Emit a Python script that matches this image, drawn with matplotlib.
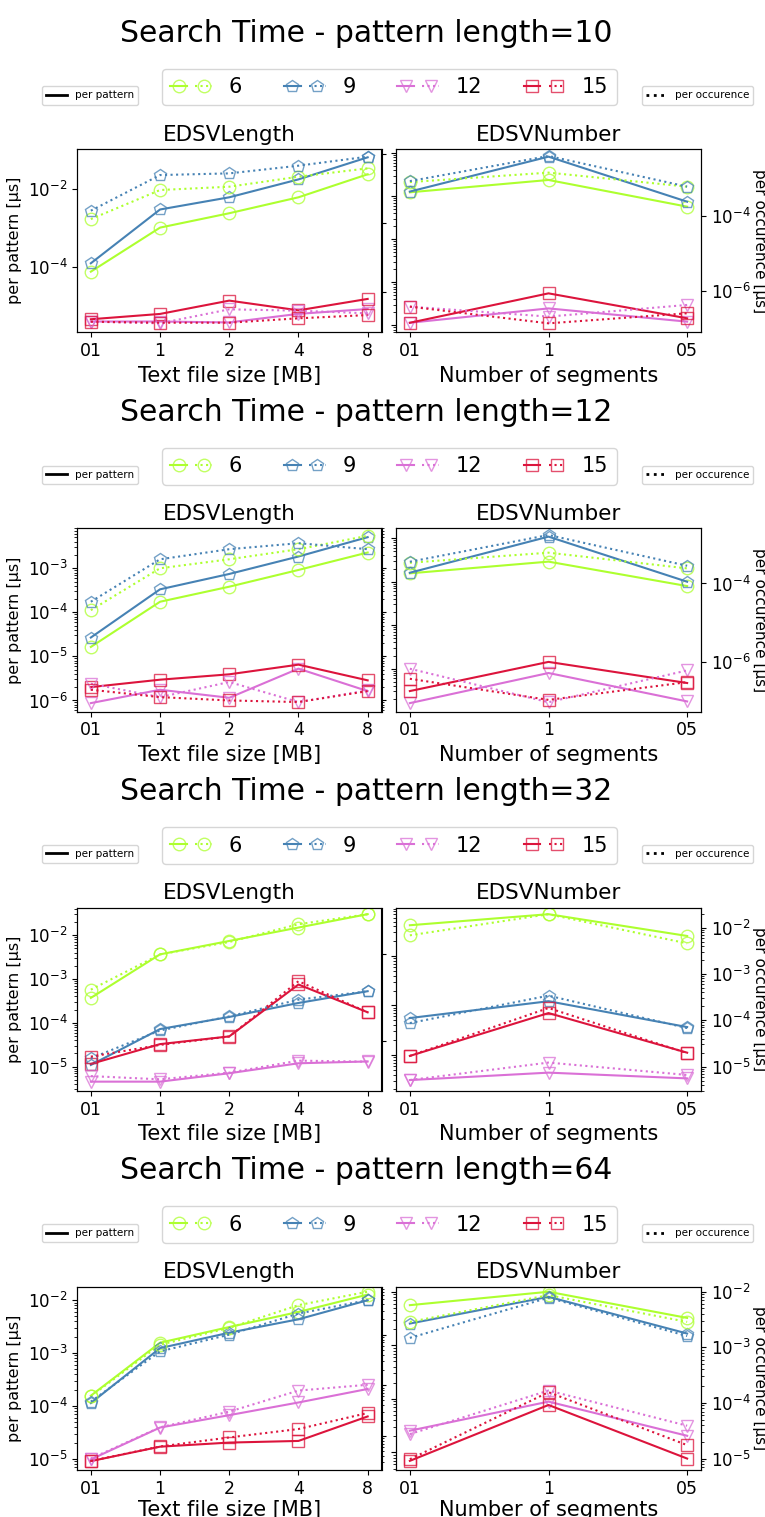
import numpy as np
import matplotlib.pyplot as plt
from matplotlib.lines import Line2D
from matplotlib.legend_handler import HandlerTuple
from matplotlib.ticker import NullFormatter, NullLocator
from matplotlib.colors import to_rgba

sizes = ['01', '1', '2', '4', '8']
segments = ['01', '1', '05']
pattern_lengths = [10, 12, 32, 64]
groups = ['6', '9', '12', '15']
colors = ['greenyellow', 'steelblue', 'orchid', 'crimson']
markers = ['o', 'p', 'v', 's']

# EDSVLength, per pattern [us] (series: 6, 9, 12, 15)
length_pat_10 = [[7.4e-5, 1.02e-3, 2.4e-3, 6.2e-3, 2.44e-2],
                 [1.22e-4, 3.0e-3, 6.2e-3, 1.8e-2, 6.7e-2],
                 [3.8e-6, 3.8e-6, 3.6e-6, 6.0e-6, 8.0e-6],
                 [4.35e-6, 5.97e-6, 1.32e-5, 7.4e-6, 1.46e-5]]
length_pat_12 = [[1.64e-5, 1.74e-4, 3.82e-4, 9.16e-4, 2.28e-3],
                 [2.68e-5, 3.33e-4, 7.43e-4, 1.85e-3, 5.08e-3],
                 [8.7e-7, 1.75e-6, 1.15e-6, 5.27e-6, 1.63e-6],
                 [2.01e-6, 2.96e-6, 3.92e-6, 6.5e-6, 2.86e-6]]
length_pat_32 = [[3.71e-4, 3.66e-3, 7.41e-3, 1.5e-2, 3.03e-2],
                 [1.09e-5, 7.2e-5, 1.36e-4, 2.84e-4, 5.27e-4],
                 [4.53e-6, 4.53e-6, 7.05e-6, 1.19e-5, 1.31e-5],
                 [1.15e-5, 3.26e-5, 4.89e-5, 7.5e-4, 1.74e-4]]
length_pat_64 = [[1.56e-4, 1.57e-3, 3.11e-3, 6.0e-3, 1.28e-2],
                 [1.13e-4, 1.24e-3, 2.43e-3, 4.36e-3, 1.0e-2],
                 [9.7e-6, 3.89e-5, 6.68e-5, 1.16e-4, 2.09e-4],
                 [9.0e-6, 1.69e-5, 2.02e-5, 2.17e-5, 6.31e-5]]

# EDSVLength, per occurence [us]
length_occ_10 = [[1.3e-4, 9.06e-4, 1.13e-3, 2.2e-3, 3.85e-3],
                 [2.28e-4, 2.46e-3, 2.75e-3, 4.59e-3, 8.4e-3],
                 [1.38e-7, 1.24e-7, 3.15e-7, 2.88e-7, 2.41e-7],
                 [1.38e-7, 1.29e-7, 1.29e-7, 1.73e-7, 2.15e-7]]
length_occ_12 = [[1.12e-4, 1.0e-3, 1.6e-3, 2.71e-3, 5.46e-3],
                 [1.74e-4, 1.6e-3, 2.71e-3, 3.71e-3, 2.71e-3],
                 [2.4e-6, 1.19e-6, 2.62e-6, 9.2e-7, 1.69e-6],
                 [1.75e-6, 1.19e-6, 1.0e-6, 9.2e-7, 1.63e-6]]
length_occ_32 = [[1.53e-3, 1.0e-2, 1.94e-2, 4.99e-2, 8.5e-2],
                 [3.95e-5, 1.74e-4, 3.68e-4, 8.98e-4, 1.4e-3],
                 [1.53e-5, 1.29e-5, 1.84e-5, 3.49e-5, 3.3e-5],
                 [4.32e-5, 8.07e-5, 1.26e-4, 2.4e-3, 4.56e-4]]
length_occ_64 = [[6.04e-4, 6.32e-3, 1.36e-2, 3.83e-2, 7.05e-2],
                 [4.73e-4, 4.67e-3, 1.0e-2, 2.61e-2, 4.81e-2],
                 [3.55e-5, 1.47e-4, 3.0e-4, 7.83e-4, 1.02e-3],
                 [3.18e-5, 6.14e-5, 9.27e-5, 1.36e-4, 2.82e-4]]

# EDSVNumber, per pattern [us]
number_pat_10 = [[1.24e-3, 2.4e-3, 5.75e-4],
                 [1.29e-3, 8.36e-3, 7.5e-4],
                 [1.15e-6, 2.48e-6, 1.22e-6],
                 [1.15e-6, 5.55e-6, 1.46e-6]]
number_pat_12 = [[1.56e-4, 2.9e-4, 7.94e-5],
                 [1.61e-4, 1.09e-3, 1.0e-4],
                 [1.61e-7, 7.94e-7, 1.76e-7],
                 [3.05e-7, 1.43e-6, 4.67e-7]]
number_pat_32 = [[4.2e-2, 7.03e-2, 2.55e-2],
                 [5.57e-4, 1.22e-3, 3.66e-4],
                 [3.1e-5, 4.38e-5, 3.35e-5],
                 [9.55e-5, 7.03e-4, 1.11e-4]]
number_pat_64 = [[5.62e-3, 1.0e-2, 3.25e-3],
                 [2.55e-3, 8.05e-3, 1.66e-3],
                 [2.55e-5, 8.9e-5, 2.05e-5],
                 [6.98e-6, 7.7e-5, 7.7e-6]]

# EDSVNumber, per occurence [us]
number_occ_10 = [[8.0e-4, 1.43e-3, 6.05e-4],
                 [8.5e-4, 3.98e-3, 6.05e-4],
                 [3.82e-7, 2.07e-7, 4.24e-7],
                 [3.82e-7, 1.37e-7, 2.54e-7]]
number_occ_12 = [[3.37e-4, 6.07e-4, 2.42e-4],
                 [3.57e-4, 1.71e-3, 2.82e-4],
                 [6.76e-7, 9.5e-8, 6.12e-7],
                 [3.75e-7, 1.09e-7, 3.08e-7]]
number_occ_32 = [[6.82e-3, 1.95e-2, 4.57e-3],
                 [8.69e-5, 3.4e-4, 6.78e-5],
                 [5.13e-6, 1.22e-5, 6.59e-6],
                 [1.7e-5, 1.84e-4, 1.95e-5]]
number_occ_64 = [[2.87e-3, 8.7e-3, 2.87e-3],
                 [1.48e-3, 7.8e-3, 1.6e-3],
                 [2.75e-5, 1.67e-4, 3.89e-5],
                 [9.7e-6, 1.56e-4, 1.74e-5]]

length_pat = [length_pat_10, length_pat_12, length_pat_32, length_pat_64]
length_occ = [length_occ_10, length_occ_12, length_occ_32, length_occ_64]
number_pat = [number_pat_10, number_pat_12, number_pat_32, number_pat_64]
number_occ = [number_occ_10, number_occ_12, number_occ_32, number_occ_64]

# y ranges of the four axes in every row
length_pat_ylim = [(2.0e-6, 1.1e-1), (5.6e-7, 8.1e-3), (2.8e-6, 4.3e-2), (6.1e-6, 1.8e-2)]
length_occ_ylim = [(6.8e-8, 1.4e-2), (5.6e-7, 8.1e-3), (7.0e-6, 1.216e-1), (2.1e-5, 8.85e-2)]
number_pat_ylim = [(6.9e-7, 1.26e-2), (1.03e-7, 1.7e-3), (1.88e-5, 9.6e-2), (4.7e-6, 1.24e-2)]
number_occ_ylim = [(7.9e-8, 6.1e-3), (5.5e-8, 2.54e-3), (3.0e-6, 2.72e-2), (6.2e-6, 1.23e-2)]

# major ticks where only every second decade is marked (None = default)
length_pat_ticks = [[1e-2, 1e-4], None, None, None]
length_occ_ticks = [[1e-2, 1e-4, 1e-6], None, [1e-2, 1e-4], None]
number_pat_ticks = [None, None, None, None]
number_occ_ticks = [[1e-4, 1e-6], [1e-4, 1e-6], None, None]

W, H = 765, 1517
ROW = H / 4
fig = plt.figure(figsize=(W / 100, H / 100), dpi=100)


def box(x0, x1, top, bottom):
    return [x0 / W, 1 - bottom / H, (x1 - x0) / W, (bottom - top) / H]


def draw(ax, x, series, ls):
    for vals, c, m in zip(series, colors, markers):
        ax.plot(x, vals, color=c, ls=ls, lw=1.5, marker=m, ms=9, mfc='none',
                mec=to_rgba(c, 0.75), mew=1.0)


def set_y(ax, lim, ticks):
    ax.set_yscale('log')
    ax.set_ylim(lim)
    if ticks is not None:
        ax.set_yticks(ticks)
        ax.yaxis.set_minor_locator(NullLocator())
        ax.set_ylim(lim)
    ax.tick_params(labelsize=12)


for r, n in enumerate(pattern_lengths):
    y0 = r * ROW
    fig.text(366 / W, 1 - (y0 + 33) / H, f'Search Time - pattern length={n}',
             ha='center', va='center', fontsize=21.5)

    ax1 = fig.add_axes(box(77, 381.5, y0 + 149, y0 + 332.3))
    ax2 = fig.add_axes(box(396, 701, y0 + 149, y0 + 332.3))
    t1 = ax1.twinx()
    t2 = ax2.twinx()

    draw(ax1, sizes, length_pat[r], '-')
    draw(t1, sizes, length_occ[r], ':')
    draw(ax2, segments, number_pat[r], '-')
    draw(t2, segments, number_occ[r], ':')

    set_y(ax1, length_pat_ylim[r], length_pat_ticks[r])
    set_y(t1, length_occ_ylim[r], length_occ_ticks[r])
    set_y(ax2, number_pat_ylim[r], number_pat_ticks[r])
    set_y(t2, number_occ_ylim[r], number_occ_ticks[r])

    t1.yaxis.set_major_formatter(NullFormatter())
    t1.yaxis.set_minor_formatter(NullFormatter())
    ax2.yaxis.set_major_formatter(NullFormatter())
    ax2.yaxis.set_minor_formatter(NullFormatter())
    ax1.tick_params(axis='x', labelsize=12.5)
    ax2.tick_params(axis='x', labelsize=12.5)

    pad = 1.5 if r == len(pattern_lengths) - 1 else 4
    ax1.set_title('EDSVLength', fontsize=15.5)
    ax2.set_title('EDSVNumber', fontsize=15.5)
    ax1.set_xlabel('Text file size [MB]', fontsize=15, labelpad=pad)
    ax2.set_xlabel('Number of segments', fontsize=15, labelpad=pad)
    ax1.set_ylabel('per pattern [µs]', fontsize=11.5)
    t2.set_ylabel('per occurence [µs]', fontsize=11, rotation=270, va='bottom', labelpad=1)

    handles = []
    for c, m in zip(colors, markers):
        solid = Line2D([], [], color=c, ls='-', lw=1.5, marker=m, ms=9, mfc='none',
                       mec=to_rgba(c, 0.75))
        dotted = Line2D([], [], color=c, ls=':', lw=1.5, marker=m, ms=9, mfc='none',
                        mec=to_rgba(c, 0.75))
        handles.append((solid, dotted))
    fig.legend(handles, groups, loc='center', ncol=4, fontsize=15,
               bbox_to_anchor=(389.5 / W, 1 - (y0 + 87) / H),
               handler_map={tuple: HandlerTuple(ndivide=None)})
    fig.legend([Line2D([], [], color='black', lw=2)], ['per pattern'], loc='center',
               fontsize=7.5, bbox_to_anchor=(90 / W, 1 - (y0 + 95.5) / H))
    fig.legend([Line2D([], [], color='black', lw=2, ls=':')], ['per occurence'],
               loc='center', fontsize=7.5, bbox_to_anchor=(697.5 / W, 1 - (y0 + 95.5) / H))

fig.savefig('out.png', dpi=100)
